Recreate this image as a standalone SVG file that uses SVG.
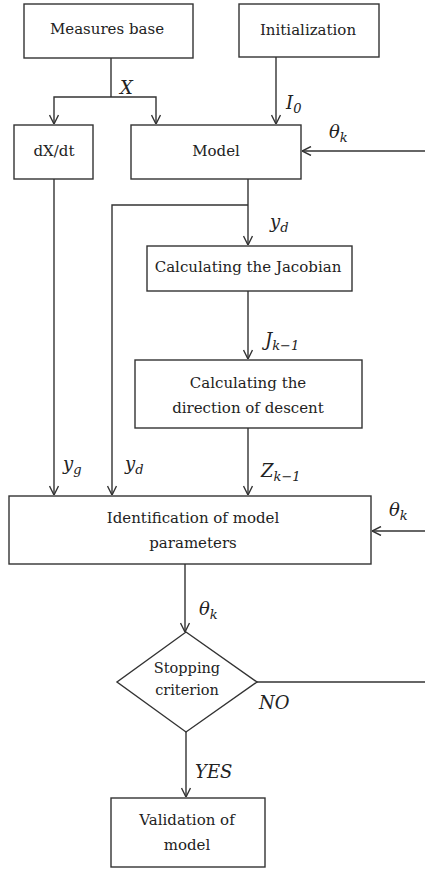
<svg xmlns="http://www.w3.org/2000/svg" width="425" height="870" viewBox="0 0 425 870">
<style>
.box{fill:#fff;stroke:#333;stroke-width:1.4}
.ln{fill:none;stroke:#333;stroke-width:1.4}
.t{font-family:"DejaVu Serif","Liberation Serif",serif;font-size:15px;fill:#222;text-anchor:middle}
.d{font-size:14.5px}
.m{font-family:"DejaVu Serif","Liberation Serif",serif;font-style:italic;font-size:18px;fill:#222}
.s{font-size:13px}
</style>
<defs>
<marker id="ar" viewBox="0 0 10 10" refX="10" refY="5" markerWidth="10" markerHeight="10" markerUnits="userSpaceOnUse" orient="auto">
<path d="M1,0.5 L10,5 L1,9.5" fill="none" stroke="#333" stroke-width="1.4"/>
</marker>
</defs>
<rect width="425" height="870" fill="#fff"/>
<g id="connectors">
<polyline class="ln" points="111,58 111,97"/>
<polyline class="ln" points="111,97 54,97 54,124" marker-end="url(#ar)"/>
<polyline class="ln" points="111,97 156,97 156,124" marker-end="url(#ar)"/>
<line class="ln" x1="276" y1="57" x2="276" y2="124" marker-end="url(#ar)"/>
<line class="ln" x1="425" y1="151" x2="302" y2="151" marker-end="url(#ar)"/>
<line class="ln" x1="248" y1="179" x2="248" y2="245" marker-end="url(#ar)"/>
<polyline class="ln" points="248,205 112,205 112,495" marker-end="url(#ar)"/>
<line class="ln" x1="54" y1="179" x2="54" y2="495" marker-end="url(#ar)"/>
<line class="ln" x1="248" y1="291" x2="248" y2="359" marker-end="url(#ar)"/>
<line class="ln" x1="248" y1="428" x2="248" y2="495" marker-end="url(#ar)"/>
<line class="ln" x1="425" y1="531" x2="372" y2="531" marker-end="url(#ar)"/>
<line class="ln" x1="185" y1="564" x2="185" y2="632" marker-end="url(#ar)"/>
<line class="ln" x1="257" y1="682" x2="425" y2="682"/>
<line class="ln" x1="186" y1="732" x2="186" y2="797" marker-end="url(#ar)"/>
<text class="m" x="120" y="94">X</text>
<text class="m" x="286" y="109">I<tspan class="s" dy="4">0</tspan></text>
<text class="m" x="329" y="138">θ<tspan class="s" dy="4">k</tspan></text>
<text class="m" x="270" y="228">y<tspan class="s" dy="4">d</tspan></text>
<text class="m" x="265" y="346">J<tspan class="s" dy="4">k−1</tspan></text>
<text class="m" x="63" y="470">y<tspan class="s" dy="4">g</tspan></text>
<text class="m" x="125" y="470">y<tspan class="s" dy="4">d</tspan></text>
<text class="m" x="261" y="477">Z<tspan class="s" dy="4">k−1</tspan></text>
<text class="m" x="389" y="516">θ<tspan class="s" dy="4">k</tspan></text>
<text class="m" x="199" y="615">θ<tspan class="s" dy="4">k</tspan></text>
<text class="m" x="259" y="709">NO</text>
<text class="m" x="195" y="778">YES</text>
</g>
<g id="measures"><rect class="box" x="24" y="4" width="169" height="54"/><text class="t" x="107" y="34">Measures base</text></g>
<g id="init"><rect class="box" x="239" y="4" width="140" height="53"/><text class="t" x="308" y="35">Initialization</text></g>
<g id="dxdt"><rect class="box" x="14" y="125" width="79" height="54"/><text class="t" x="54" y="156">dX/dt</text></g>
<g id="model"><rect class="box" x="131" y="125" width="170" height="54"/><text class="t" x="216" y="156">Model</text></g>
<g id="jacobian"><rect class="box" x="147" y="246" width="205" height="45"/><text class="t" x="248" y="272">Calculating the Jacobian</text></g>
<g id="direction"><rect class="box" x="135" y="360" width="227" height="68"/><text class="t" x="248" y="388">Calculating the</text><text class="t" x="248" y="413">direction of descent</text></g>
<g id="ident"><rect class="box" x="9" y="496" width="362" height="68"/><text class="t" x="193" y="523">Identification of model</text><text class="t" x="193" y="548">parameters</text></g>
<g id="stop"><polygon class="box" points="186,632 257,682 186,732 117,682"/><text class="t d" x="187" y="673">Stopping</text><text class="t d" x="187" y="695">criterion</text></g>
<g id="valid"><rect class="box" x="111" y="798" width="154" height="69"/><text class="t" x="187" y="825">Validation of</text><text class="t" x="187" y="850">model</text></g>
</svg>
